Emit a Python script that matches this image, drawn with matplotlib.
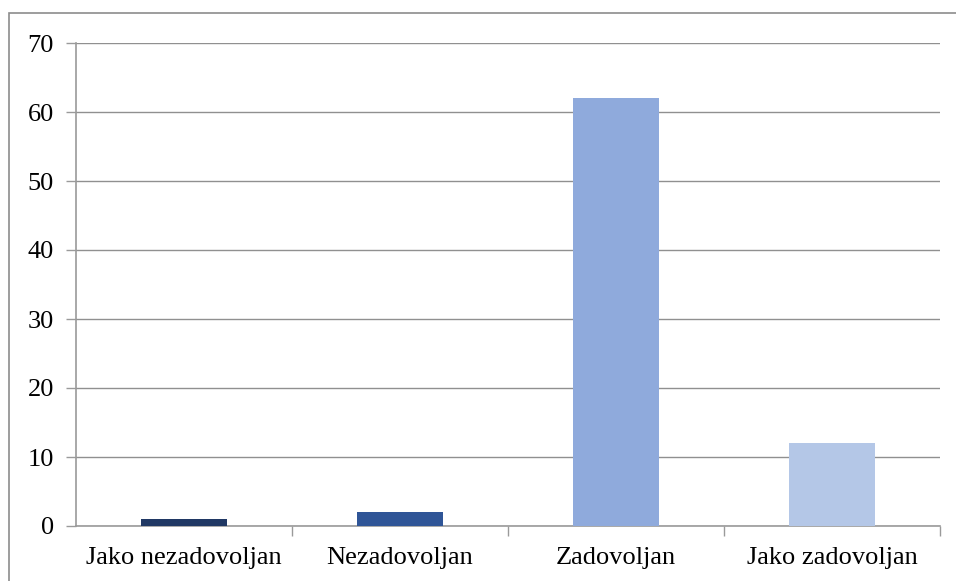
import matplotlib
matplotlib.use('Agg')
import matplotlib.pyplot as plt
from matplotlib.patches import Rectangle

# Data
categories = ['Jako nezadovoljan', 'Nezadovoljan', 'Zadovoljan', 'Jako zadovoljan']
values = [1, 2, 62, 12]
colors = ['#203864', '#2F5597', '#8FAADC', '#B4C7E7']
y_ticks = [0, 10, 20, 30, 40, 50, 60, 70]

plt.rcParams['font.family'] = ['Liberation Serif', 'DejaVu Serif']

W, H = 956, 581
fig = plt.figure(figsize=(W / 100, H / 100), dpi=100)

# outer chart-area border
fig.patches.append(Rectangle((9 / W, -0.01), 1.0, 1 - 13 / H + 0.01,
                             transform=fig.transFigure, fill=False,
                             edgecolor='#8C8C8C', linewidth=1.2))

ax = fig.add_axes([76 / W, 1 - 526 / H, (940 - 76) / W, (526 - 43) / H])

x = range(len(categories))
ax.bar(x, values, width=0.40, color=colors, zorder=3)

ax.set_xlim(-0.5, len(categories) - 0.5)
ax.set_ylim(0, 70)
ax.set_yticks(y_ticks)
ax.set_yticklabels([str(v) for v in y_ticks], fontsize=19)
ax.yaxis.grid(True, color='#909090', linewidth=1.0, zorder=0)
ax.tick_params(axis='y', length=7, color='#9A9A9A', width=1.0, pad=9)

# category labels centered, tick marks at boundaries
ax.set_xticks([i + 0.5 for i in range(len(categories) - 1)] + [len(categories) - 0.5])
ax.set_xticklabels([])
ax.set_xticks(list(x), minor=True)
ax.set_xticklabels(categories, minor=True, fontsize=19)
ax.tick_params(axis='x', which='major', length=7, color='#9A9A9A', width=1.0)
ax.tick_params(axis='x', which='minor', length=0, pad=15)

for side in ['top', 'right']:
    ax.spines[side].set_visible(False)
for side in ['left', 'bottom']:
    ax.spines[side].set_color('#9A9A9A')
    ax.spines[side].set_linewidth(1.2)

fig.savefig('out.png', dpi=100)
